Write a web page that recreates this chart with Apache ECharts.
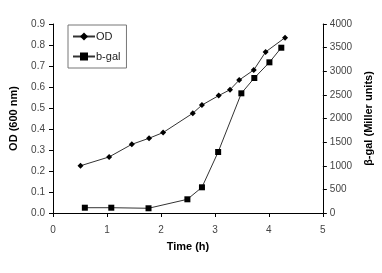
<!DOCTYPE html>
<html><head><meta charset="utf-8">
<script src="https://cdn.jsdelivr.net/npm/echarts@6/dist/echarts.min.js"></script>
<style>html,body{margin:0;padding:0;background:#fff}#c{width:382px;height:273px}</style>
</head><body><div id="c"></div>
<script>
var odTime = [0.51, 1.04, 1.46, 1.78, 2.04, 2.59, 2.76, 3.07, 3.28, 3.45, 3.72, 3.94, 4.30];
var odValue = [0.225, 0.267, 0.327, 0.356, 0.383, 0.475, 0.514, 0.559, 0.587, 0.633, 0.681, 0.767, 0.835];
var bgalTime = [0.59, 1.08, 1.77, 2.49, 2.76, 3.06, 3.49, 3.73, 4.01, 4.23];
var bgalValue = [112, 112, 100, 290, 544, 1291, 2533, 2857, 3189, 3498];
var xLabel = 'Time (h)';
var yLeftLabel = 'OD (600 nm)';
var yRightLabel = 'β-gal (Miller units)';

function pairs(t, v){ return t.map(function(x,i){return [x, v[i]];}); }
var font = 'Liberation Sans, Arial, sans-serif';
var chart = echarts.init(document.getElementById('c'), null, {renderer:'canvas'});
chart.setOption({
  animation:false,
  textStyle:{fontFamily:font},
  grid:{left:53, right:59, top:24, bottom:60},
  legend:{
    orient:'vertical', left:68, top:25, padding:[6,6,6,4],
    borderColor:'#777', borderWidth:1, itemGap:9, itemWidth:22, itemHeight:10,
    textStyle:{fontFamily:font, fontSize:11, color:'#222', padding:[0,0,0,-4]},
    data:['OD','b-gal']
  },
  xAxis:{
    type:'value', min:0, max:5, interval:1,
    name:xLabel, nameLocation:'middle', nameGap:28,
    nameTextStyle:{fontFamily:font, fontSize:11, fontWeight:'bold', color:'#000'},
    axisLine:{lineStyle:{color:'#000', width:1}},
    axisTick:{show:true, length:4, lineStyle:{color:'#000'}},
    axisLabel:{fontSize:10, color:'#444', margin:12},
    splitLine:{show:false}
  },
  yAxis:[{
    type:'value', min:0, max:0.9, interval:0.1,
    name:yLeftLabel, nameLocation:'middle', nameGap:34, nameRotate:90,
    nameTextStyle:{fontFamily:font, fontSize:11, fontWeight:'bold', color:'#000'},
    axisLine:{show:true, lineStyle:{color:'#000', width:1}},
    axisTick:{show:true, length:4, lineStyle:{color:'#000'}},
    axisLabel:{fontSize:10, color:'#444', margin:8, formatter:function(v){return v.toFixed(1);}},
    splitLine:{show:false}
  },{
    type:'value', min:0, max:4000, interval:500, position:'right',
    name:yRightLabel, nameLocation:'middle', nameGap:40, nameRotate:90,
    nameTextStyle:{fontFamily:font, fontSize:11, fontWeight:'bold', color:'#000'},
    axisLine:{show:true, lineStyle:{color:'#000', width:1}},
    axisTick:{show:true, length:4, lineStyle:{color:'#000'}},
    axisLabel:{fontSize:10, color:'#444', margin:7, formatter:function(v){return String(v);}},
    splitLine:{show:false}
  }],
  series:[{
    name:'OD', type:'line', yAxisIndex:0, data:pairs(odTime, odValue),
    symbol:'diamond', symbolSize:6, color:'#000',
    lineStyle:{color:'#333', width:1}, itemStyle:{color:'#000'}
  },{
    name:'b-gal', type:'line', yAxisIndex:1, data:pairs(bgalTime, bgalValue),
    symbol:'rect', symbolSize:6, color:'#000',
    lineStyle:{color:'#333', width:1}, itemStyle:{color:'#000'}
  }]
});
</script></body></html>
